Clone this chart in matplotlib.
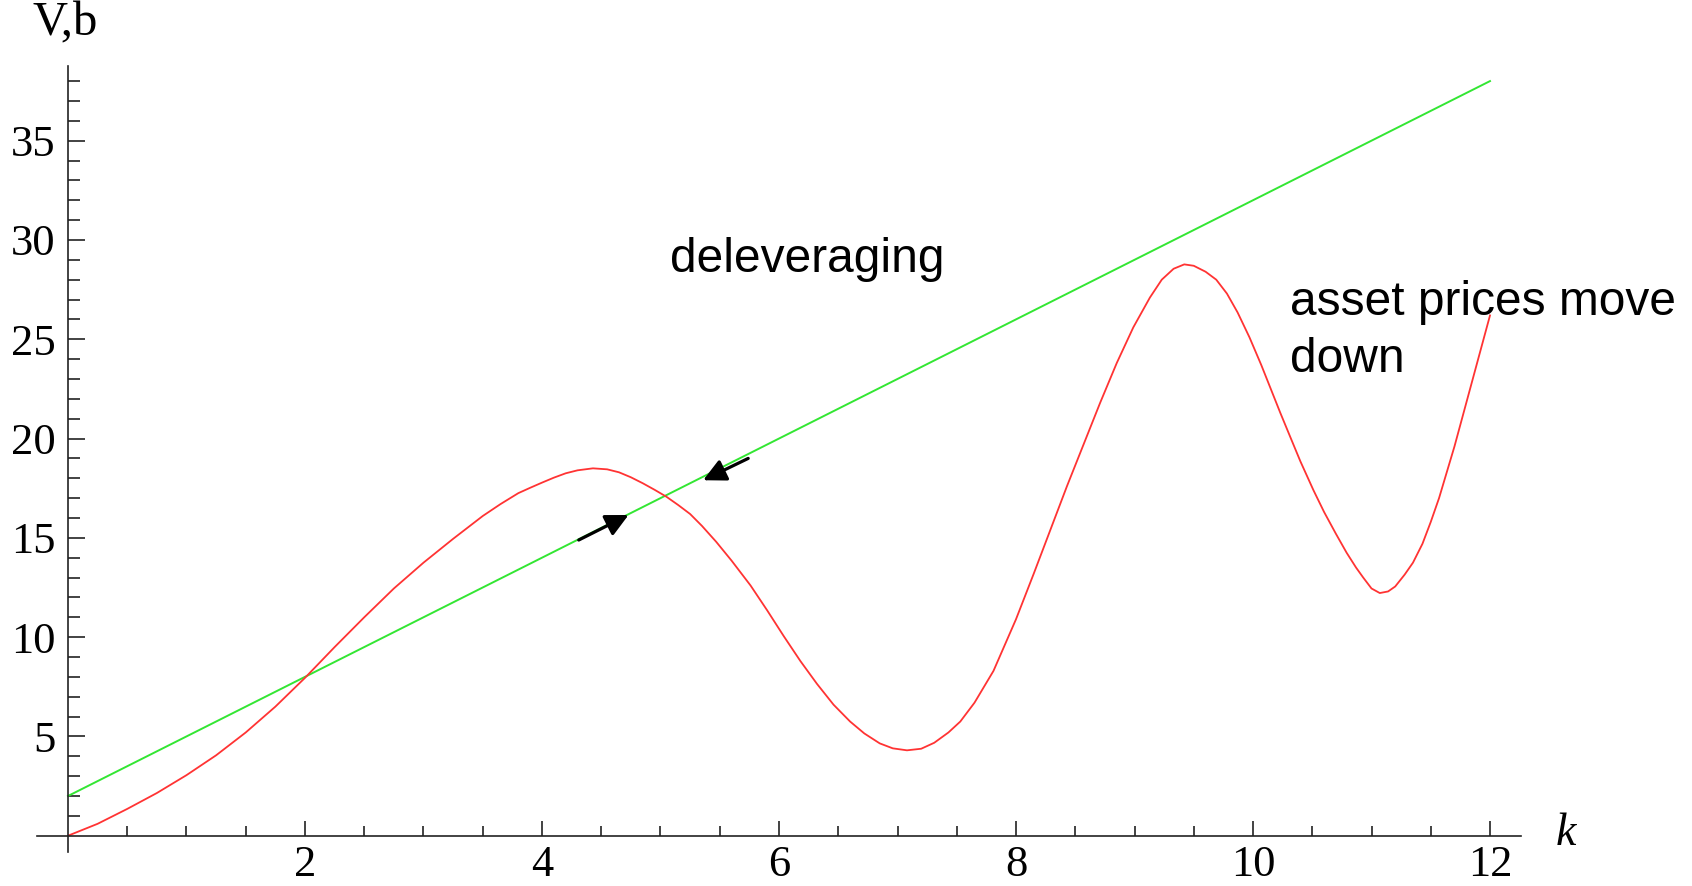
import matplotlib.pyplot as plt
from matplotlib.ticker import FixedLocator

# Werte
k_V = [0.0, 0.25, 0.5, 0.75, 1.0, 1.25, 1.5, 1.75, 2.0, 2.25, 2.5, 2.75, 3.0,
       3.25, 3.5, 3.65, 3.8, 3.9, 4.0, 4.1, 4.2, 4.3, 4.43, 4.55, 4.65, 4.75,
       4.85, 4.95, 5.05, 5.15, 5.25, 5.35, 5.47, 5.6, 5.76, 5.9, 6.04, 6.18,
       6.32, 6.46, 6.6, 6.72, 6.85, 6.96, 7.08, 7.2, 7.31, 7.43, 7.53, 7.65,
       7.81, 8.0, 8.15, 8.29, 8.43, 8.57, 8.71, 8.85, 8.99, 9.13, 9.23, 9.33,
       9.42, 9.5, 9.6, 9.69, 9.78, 9.87, 9.97, 10.07, 10.15, 10.23, 10.32,
       10.4, 10.51, 10.6, 10.7, 10.79, 10.87, 10.93, 11.0, 11.07, 11.14, 11.2,
       11.28, 11.35, 11.43, 11.5, 11.57, 11.63, 11.7, 11.8, 11.9, 12.0]
V = [0.0, 0.6, 1.35, 2.15, 3.05, 4.05, 5.2, 6.5, 7.95, 9.5, 11.0, 12.45, 13.75,
     14.95, 16.1, 16.7, 17.25, 17.52, 17.78, 18.03, 18.25, 18.4, 18.5, 18.45,
     18.3, 18.05, 17.75, 17.42, 17.07, 16.65, 16.2, 15.6, 14.8, 13.85, 12.6,
     11.35, 10.05, 8.8, 7.65, 6.6, 5.75, 5.15, 4.65, 4.4, 4.3, 4.38, 4.68,
     5.2, 5.75, 6.7, 8.3, 10.9, 13.2, 15.4, 17.6, 19.7, 21.8, 23.8, 25.6,
     27.1, 28.0, 28.55, 28.77, 28.7, 28.4, 28.0, 27.3, 26.35, 25.1, 23.7, 22.5,
     21.3, 20.0, 18.85, 17.4, 16.3, 15.2, 14.25, 13.5, 13.0, 12.45, 12.22,
     12.3, 12.55, 13.15, 13.75, 14.7, 15.8, 17.0, 18.2, 19.6, 21.8, 24.0, 26.2]

k_b = [0.0, 12.0]
b = [2.0, 38.0]

x_major = [2, 4, 6, 8, 10, 12]
y_major = [5, 10, 15, 20, 25, 30, 35]

# Pfeile (Ende, Spitze)
arrow_up = [(4.31, 14.89), (4.73, 16.15)]
arrow_down = [(5.74, 19.0), (5.36, 17.9)]

serif = 'Liberation Serif'
sans = 'Liberation Sans'

fig = plt.figure(figsize=(16.92, 8.86), dpi=100)
ax = fig.add_axes([37 / 1692, 34 / 886, 1484 / 1692, 786 / 886])

ax.plot(k_b, b, color='#33e633', lw=1.4)
ax.plot(k_V, V, color='#ff3333', lw=1.3)

for tail, head in [arrow_up, arrow_down]:
    ax.annotate('', xy=head, xytext=tail,
                arrowprops=dict(arrowstyle='-|>', color='black', lw=2.3,
                                mutation_scale=34, shrinkA=0, shrinkB=0))

ax.set_xlim(-0.2616, 12.2616)
ax.set_ylim(-0.82, 38.76)

for s in ['top', 'right']:
    ax.spines[s].set_visible(False)
ax.spines['left'].set_position(('data', 0))
ax.spines['bottom'].set_position(('data', 0))
for s in ['left', 'bottom']:
    ax.spines[s].set_linewidth(1.2)
    ax.spines[s].set_color('#222222')

ax.xaxis.set_major_locator(FixedLocator(x_major))
ax.yaxis.set_major_locator(FixedLocator(y_major))
ax.xaxis.set_minor_locator(FixedLocator([i * 0.5 for i in range(1, 25) if i % 4]))
ax.yaxis.set_minor_locator(FixedLocator([i for i in range(1, 39) if i % 5]))

ax.tick_params(axis='both', which='both', direction='in', color='#222222', width=1.2)
ax.tick_params(axis='x', which='major', length=11, pad=7)
ax.tick_params(axis='x', which='minor', length=7)
ax.tick_params(axis='y', which='major', length=12.5, pad=9)
ax.tick_params(axis='y', which='minor', length=8.5)
for lab in ax.get_xticklabels() + ax.get_yticklabels():
    lab.set_fontfamily(serif)
    lab.set_fontsize(32)

ax.text(-0.3, 40.3, 'V,b', family=serif, fontsize=35, ha='left',
        va='baseline', clip_on=False)
ax.text(12.55, 0.1, 'k', family=serif, style='italic', fontsize=33,
        ha='left', va='center', clip_on=False)

ax.text(5.08, 28.4, 'deleveraging', family=sans, fontsize=34.5, va='baseline')
ax.text(10.31, 23.36, 'asset prices move\ndown', family=sans, fontsize=34.5,
        va='baseline', linespacing=1.33, clip_on=False)

fig.savefig('out.png', dpi=100)
